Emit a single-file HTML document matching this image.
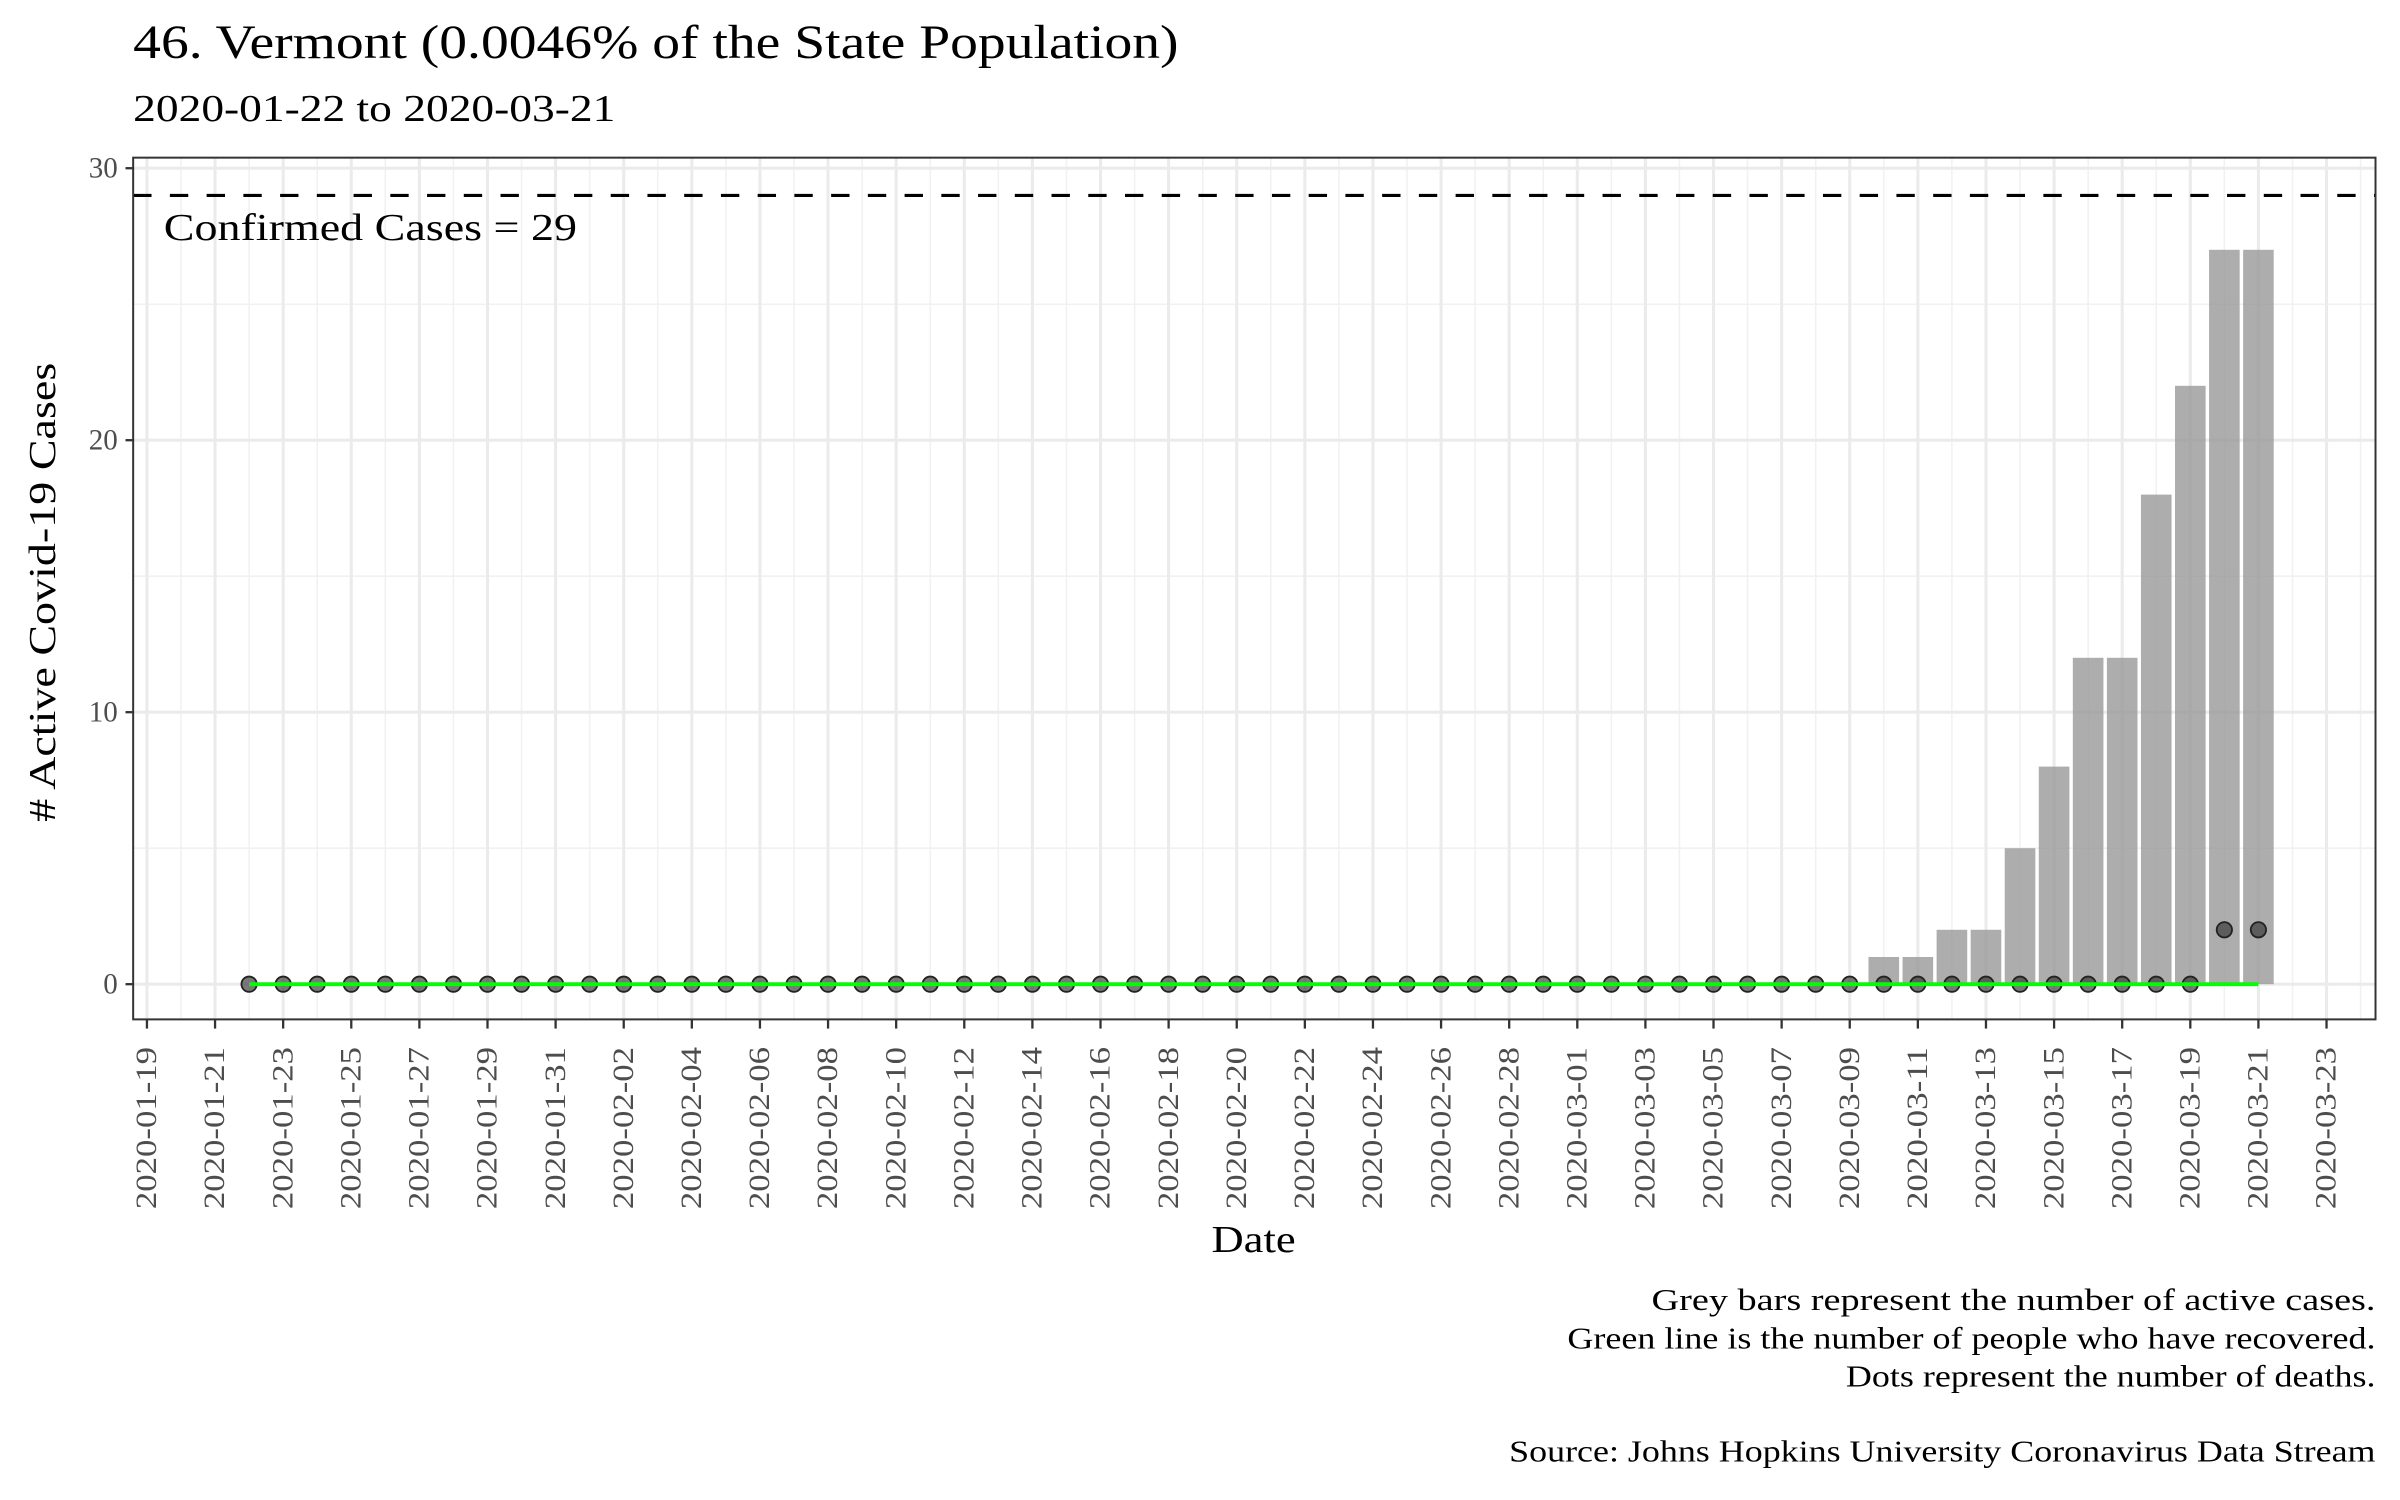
<!DOCTYPE html>
<html><head><meta charset="utf-8"><style>
html,body{margin:0;padding:0;background:#fff;}
svg{display:block;font-family:"Liberation Serif",serif;}
</style></head><body>
<svg id="chart" width="2400" height="1500" viewBox="0 0 1568 980" preserveAspectRatio="none" xmlns="http://www.w3.org/2000/svg">
<rect x="0" y="0" width="1568" height="980" fill="#fff"/>
<text x="87" y="38" font-size="31" fill="#000" textLength="683" lengthAdjust="spacingAndGlyphs">46. Vermont (0.0046% of the State Population)</text>
<text x="87" y="79" font-size="25" fill="#000" textLength="315" lengthAdjust="spacingAndGlyphs">2020-01-22 to 2020-03-21</text>
<g id="grid"></g>
<g id="marks"></g>
<rect x="87" y="103" width="1465" height="563" fill="none" stroke="#333" stroke-width="1.3"/>
<g id="axes"></g>
<text transform="translate(36,387) rotate(-90)" text-anchor="middle" font-size="25" fill="#000" textLength="300" lengthAdjust="spacingAndGlyphs"># Active Covid-19 Cases</text>
<text x="819" y="818" text-anchor="middle" font-size="25" fill="#000" textLength="55" lengthAdjust="spacingAndGlyphs">Date</text>
<g font-size="20" text-anchor="end" fill="#000" lengthAdjust="spacingAndGlyphs">
<text x="1552" y="856" textLength="473" lengthAdjust="spacingAndGlyphs">Grey bars represent the number of active cases.</text>
<text x="1552" y="881" textLength="528" lengthAdjust="spacingAndGlyphs">Green line is the number of people who have recovered.</text>
<text x="1552" y="906" textLength="346" lengthAdjust="spacingAndGlyphs">Dots represent the number of deaths.</text>
<text x="1552" y="955" textLength="566" lengthAdjust="spacingAndGlyphs">Source: Johns Hopkins University Coronavirus Data Stream</text>
</g>
</svg>
<script>
// data: day index 0 = 2020-01-22 ... 59 = 2020-03-21
const startDate = "2020-01-22";
const activeCases = [0,0,0,0,0,0,0,0,0,0, 0,0,0,0,0,0,0,0,0,0, 0,0,0,0,0,0,0,0,0,0, 0,0,0,0,0,0,0,0,0,0, 0,0,0,0,0,0,0,0,1,1, 2,2,5,8,12,12,18,22,27,27];
const recovered = [0,0,0,0,0,0,0,0,0,0, 0,0,0,0,0,0,0,0,0,0, 0,0,0,0,0,0,0,0,0,0, 0,0,0,0,0,0,0,0,0,0, 0,0,0,0,0,0,0,0,0,0, 0,0,0,0,0,0,0,0,0,0];
const deaths = [0,0,0,0,0,0,0,0,0,0, 0,0,0,0,0,0,0,0,0,0, 0,0,0,0,0,0,0,0,0,0, 0,0,0,0,0,0,0,0,0,0, 0,0,0,0,0,0,0,0,0,0, 0,0,0,0,0,0,0,0,2,2];
const confirmed = 29;
const yTicks = [0,10,20,30];
const yMinor = [5,15,25];

const NS = "http://www.w3.org/2000/svg";
const base = new Date("2020-01-19T00:00:00Z");
const day0 = (new Date(startDate+"T00:00:00Z") - base)/86400000;
function x(d){ return 96 + d*22.25; }
function y(v){ return 643 - v*17.77; }
function el(tag, attrs, parent){ const e=document.createElementNS(NS,tag); for(const k in attrs) e.setAttribute(k,attrs[k]); parent.appendChild(e); return e; }
function fmt(d){ const dt=new Date(base.getTime()+d*86400000); return dt.toISOString().slice(0,10); }

const grid=document.getElementById('grid'), marks=document.getElementById('marks'), axes=document.getElementById('axes');
yMinor.forEach(v=>{ const l=el('line',{x1:87,x2:1552,y1:y(v),y2:y(v),stroke:'#f1f1f1','stroke-width':1},grid);

 });
for(let d=-1; d<=66; d+=2){ if(x(d)<87||x(d)>1552) continue; const l=el('line',{x1:x(d),x2:x(d),y1:103,y2:666,stroke:'#f1f1f1','stroke-width':1},grid);

 }
yTicks.forEach(v=>{ const l=el('line',{x1:87,x2:1552,y1:y(v),y2:y(v),stroke:'#ebebeb','stroke-width':2},grid);


const t=el('line',{x1:82,x2:87,y1:y(v),y2:y(v),stroke:'#333','stroke-width':1.5},axes);


const lb=el('text',{x:77,y:y(v)+6,'text-anchor':'end','font-size':19,fill:'#4d4d4d'},axes); lb.textContent=v;

 });
for(let d=0; d<=64; d+=2){ const l=el('line',{x1:x(d),x2:x(d),y1:103,y2:666,stroke:'#ebebeb','stroke-width':2},grid);


const t=el('line',{x1:x(d),x2:x(d),y1:666,y2:672,stroke:'#333','stroke-width':1.5},axes);


const lb=el('text',{transform:`translate(${x(d)+6},${684}) rotate(-90)`,'text-anchor':'end','font-size':19,fill:'#4d4d4d',textLength:106,lengthAdjust:'spacingAndGlyphs'},axes); lb.textContent=fmt(d);

 }

activeCases.forEach((v,i)=>{ if(v<=0) return; const d=day0+i; const b=el('rect',{x:x(d)-10,y:y(v),width:20,height:y(0)-y(v),fill:'#999','fill-opacity':0.8},marks);

 });
const dash=el('line',{x1:87,x2:1552,y1:y(confirmed),y2:y(confirmed),stroke:'#000','stroke-width':2,'stroke-dasharray':'12,12'},marks);


const ct=el('text',{x:107,y:y(confirmed)+29,'font-size':25,fill:'#000',textLength:270,lengthAdjust:'spacingAndGlyphs'},marks); ct.textContent='Confirmed Cases = '+confirmed;


deaths.forEach((v,i)=>{ const c=el('circle',{cx:x(day0+i),cy:y(v),r:5,fill:'#333','fill-opacity':0.65,stroke:'#222','stroke-width':1.2},marks);

 });
const pts=recovered.map((v,i)=>x(day0+i)+','+y(v)).join(' ');
const pl=el('polyline',{points:pts,fill:'none',stroke:'#00ff00','stroke-width':2.5},marks);


</script>
</body></html>
